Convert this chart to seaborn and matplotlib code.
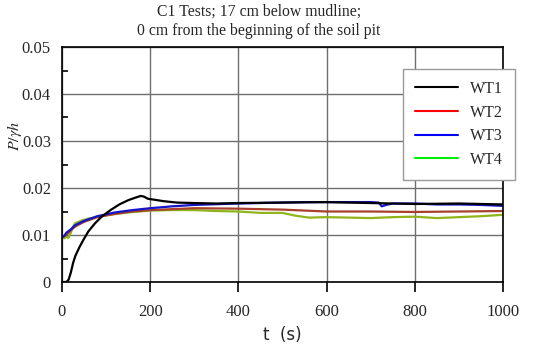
import numpy as np
import pandas as pd
import matplotlib
matplotlib.use('Agg')
import matplotlib.pyplot as plt
from matplotlib.lines import Line2D
import seaborn as sns

#values
wt1_t = [0, 10, 15, 20, 25, 30, 40, 50, 60, 75, 90, 110, 130, 150, 165, 178, 185, 195, 210, 230, 260, 300, 350, 400, 500, 600, 650, 700, 750, 800, 900, 1000]
wt1_p = [0, 0, 0.0005, 0.002, 0.004, 0.0055, 0.0075, 0.0092, 0.0108, 0.0125, 0.0139, 0.0153, 0.0165, 0.0174, 0.0179, 0.0183, 0.0182, 0.0177, 0.0175, 0.0172, 0.0169, 0.0168, 0.0167, 0.0168, 0.0169, 0.0170, 0.0169, 0.0168, 0.0167, 0.0166, 0.0167, 0.0165]

wt2_t = [0, 10, 20, 30, 50, 80, 120, 160, 200, 250, 300, 400, 500, 550, 600, 700, 800, 900, 1000]
wt2_p = [0.0095, 0.0100, 0.0110, 0.0118, 0.0128, 0.0138, 0.0145, 0.0150, 0.0153, 0.0155, 0.0157, 0.0156, 0.0154, 0.0152, 0.0150, 0.0150, 0.0149, 0.0150, 0.0151]

wt3_t = [0, 5, 10, 20, 30, 50, 80, 120, 160, 200, 250, 300, 400, 500, 550, 600, 650, 700, 718, 725, 735, 750, 800, 850, 900, 950, 1000]
wt3_p = [0.0095, 0.0098, 0.0105, 0.0112, 0.0121, 0.0130, 0.0140, 0.0148, 0.0153, 0.0157, 0.0161, 0.0164, 0.0167, 0.0169, 0.0170, 0.0170, 0.0170, 0.0170, 0.0169, 0.0161, 0.0164, 0.0167, 0.0167, 0.0165, 0.0165, 0.0164, 0.0162]

wt4_t = [0, 5, 10, 15, 20, 25, 30, 45, 60, 80, 100, 150, 200, 250, 300, 350, 400, 450, 500, 530, 560, 600, 650, 700, 750, 800, 850, 900, 950, 1000]
wt4_p = [0.0095, 0.0093, 0.0096, 0.0094, 0.0105, 0.0118, 0.0125, 0.0131, 0.0135, 0.0138, 0.0142, 0.0148, 0.0152, 0.0153, 0.0153, 0.0151, 0.0150, 0.0147, 0.0147, 0.0141, 0.0137, 0.0138, 0.0137, 0.0136, 0.0138, 0.0139, 0.0136, 0.0138, 0.0140, 0.0143]

labels = ['WT1', 'WT2', 'WT3', 'WT4']
line_colors = ['#000000', '#a8402c', '#1414c8', '#90b41c']
legend_colors = ['#000000', '#ff0000', '#0000ff', '#00ee00']

#long table for seaborn
frames = []
for lab, t, p in zip(labels, [wt1_t, wt2_t, wt3_t, wt4_t], [wt1_p, wt2_p, wt3_p, wt4_p]):
    frames.append(pd.DataFrame({'t': t, 'P': p, 'Test': lab}))
data = pd.concat(frames, ignore_index=True)

sns.set_theme(style='white')
plt.rcParams['font.family'] = ['Liberation Serif', 'DejaVu Serif']

fig = plt.figure(figsize=(5.5, 3.46), dpi=100)
ax = fig.add_axes([62/550, 64/346, 441/550, 235/346])

# draw lines, WT1 last so it sits on top like in the reference
order = ['WT4', 'WT2', 'WT3', 'WT1']
for lab in order:
    sub = data[data['Test'] == lab]
    sns.lineplot(data=sub, x='t', y='P', ax=ax, color=line_colors[labels.index(lab)],
                 linewidth=1.6, legend=False, estimator=None, sort=False)

ax.set_xlim(0, 1000)
ax.set_ylim(0, 0.05)
ax.set_xticks(np.arange(0, 1001, 200))
ax.set_yticks([0, 0.01, 0.02, 0.03, 0.04, 0.05])
ax.set_yticklabels(['0', '0.01', '0.02', '0.03', '0.04', '0.05'])
ax.set_yticks([0.005, 0.015, 0.025, 0.035, 0.045], minor=True)
ax.grid(True, which='major', color='#6e6e6e', linewidth=1.0)
ax.set_axisbelow(True)
for s in ax.spines.values():
    s.set_color('black')
    s.set_linewidth(1.2)
ax.tick_params(axis='x', which='major', direction='out', length=7, width=1.2, color='black',
               labelsize=12, pad=9, bottom=True)
ax.tick_params(axis='y', which='major', direction='in', length=0, labelsize=12, pad=8, left=True)
ax.tick_params(axis='y', which='minor', direction='in', length=4, width=1.2, color='black', left=True)

ax.set_xlabel('t  (s)', family=['DejaVu Sans'], fontsize=12, labelpad=4)
ax.set_ylabel('')
fig.text(14/550, 1 - 136/346, r'$P/\gamma h$', rotation=90, ha='center', va='center',
         fontsize=11.5, math_fontfamily='stix')

fig.text(259/550, 1 - 21/346, 'C1 Tests; 17 cm below mudline;\n0 cm from the beginning of the soil pit',
         ha='center', va='center', fontsize=11.3, linespacing=1.3)

handles = [Line2D([0], [0], color=c, linewidth=1.5) for c in legend_colors]
leg = fig.legend(handles, labels, loc='upper left', bbox_to_anchor=(403/550, 1 - 69/346),
                 fontsize=11.5, frameon=True, fancybox=False, handlelength=2.7,
                 labelspacing=0.48, borderpad=0.75, handletextpad=0.75, borderaxespad=0)
leg.get_frame().set_edgecolor('#999999')
leg.get_frame().set_linewidth(1.0)
leg.get_frame().set_facecolor('white')
leg.get_frame().set_alpha(1)

fig.savefig('out.png', dpi=100)
